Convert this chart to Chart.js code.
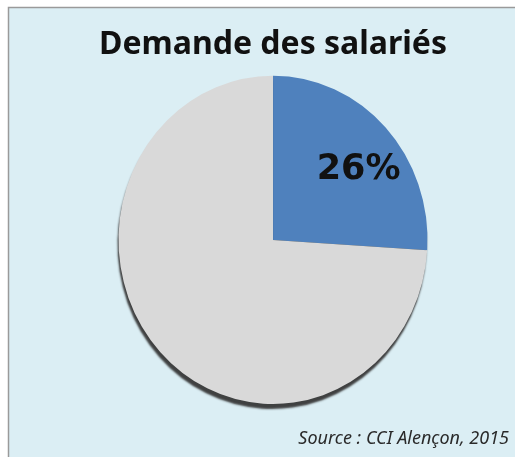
<!DOCTYPE html>
<html>
<head>
<meta charset="utf-8">
<script src="https://cdn.jsdelivr.net/npm/chart.js@4"></script>
<style>
  html, body { margin: 0; padding: 0; background: #ffffff; }
  #wrap { width: 515px; height: 457px; }
</style>
</head>
<body>
<div id="wrap"><canvas id="c" width="515" height="457"></canvas></div>
<script>
const categories = ['Oui', 'Non'];
const values = [26, 74];
const sliceColors = ['#4f81bd', '#d9d9d9'];
const titleText = 'Demande des salariés';
const sourceText = 'Source : CCI Alençon, 2015';

const ELLIPSE_Y = 1.062;

const backgroundPlugin = {
  id: 'bg',
  beforeDraw(chart) {
    const ctx = chart.ctx;
    ctx.save();
    ctx.fillStyle = '#ffffff';
    ctx.fillRect(0, 0, chart.width, chart.height);
    ctx.fillStyle = '#dbeef4';
    ctx.fillRect(8, 7, chart.width - 8, chart.height - 7);
    ctx.strokeStyle = '#9a9a9a';
    ctx.lineWidth = 1.5;
    ctx.beginPath();
    ctx.moveTo(8.5, chart.height);
    ctx.lineTo(8.5, 7.5);
    ctx.lineTo(chart.width, 7.5);
    ctx.stroke();
    ctx.restore();
  }
};

const ellipsePlugin = {
  id: 'ellipse',
  beforeDatasetsDraw(chart) {
    const arc = chart.getDatasetMeta(0).data[0];
    const ctx = chart.ctx;
    ctx.save();
    ctx.translate(arc.x, arc.y);
    ctx.scale(1, ELLIPSE_Y);
    ctx.translate(-arc.x, -arc.y);
    ctx.shadowColor = 'rgba(55,55,55,0.95)';
    ctx.shadowBlur = 2;
    ctx.shadowOffsetX = -1;
    ctx.shadowOffsetY = 5;
  },
  afterDatasetsDraw(chart) {
    const ctx = chart.ctx;
    ctx.restore();
    const meta = chart.getDatasetMeta(0);
    const arc = meta.data[0];
    const p = arc.getProps(['x', 'y', 'startAngle', 'endAngle', 'outerRadius'], true);
    const mid = (p.startAngle + p.endAngle) / 2;
    const r = p.outerRadius * 0.76;
    const total = values.reduce((a, b) => a + b, 0);
    const label = Math.round(values[0] / total * 100) + '%';
    ctx.save();
    ctx.font = 'bold 35px "DejaVu Sans"';
    ctx.fillStyle = '#111111';
    ctx.textAlign = 'center';
    ctx.textBaseline = 'middle';
    ctx.fillText(label, p.x + Math.cos(mid) * r, p.y + Math.sin(mid) * r + 10);
    ctx.restore();
  }
};

new Chart(document.getElementById('c'), {
  type: 'pie',
  data: {
    labels: categories,
    datasets: [{
      data: values,
      backgroundColor: sliceColors,
      borderWidth: 0
    }]
  },
  options: {
    responsive: false,
    animation: false,
    layout: { padding: { left: 37, right: 6, top: 0, bottom: 0 } },
    plugins: {
      legend: { display: false },
      tooltip: { enabled: false },
      title: {
        display: true,
        text: titleText,
        color: '#111111',
        font: { family: '"Noto Sans"', size: 32, weight: 'bold' },
        padding: { top: 26, bottom: 21 }
      },
      subtitle: {
        display: true,
        position: 'bottom',
        align: 'end',
        text: sourceText,
        color: '#2a2a2a',
        font: { family: '"Noto Sans"', size: 18, style: 'italic', weight: 'normal' },
        padding: { top: 34, bottom: 7 }
      }
    }
  },
  plugins: [backgroundPlugin, ellipsePlugin]
});
</script>
</body>
</html>
